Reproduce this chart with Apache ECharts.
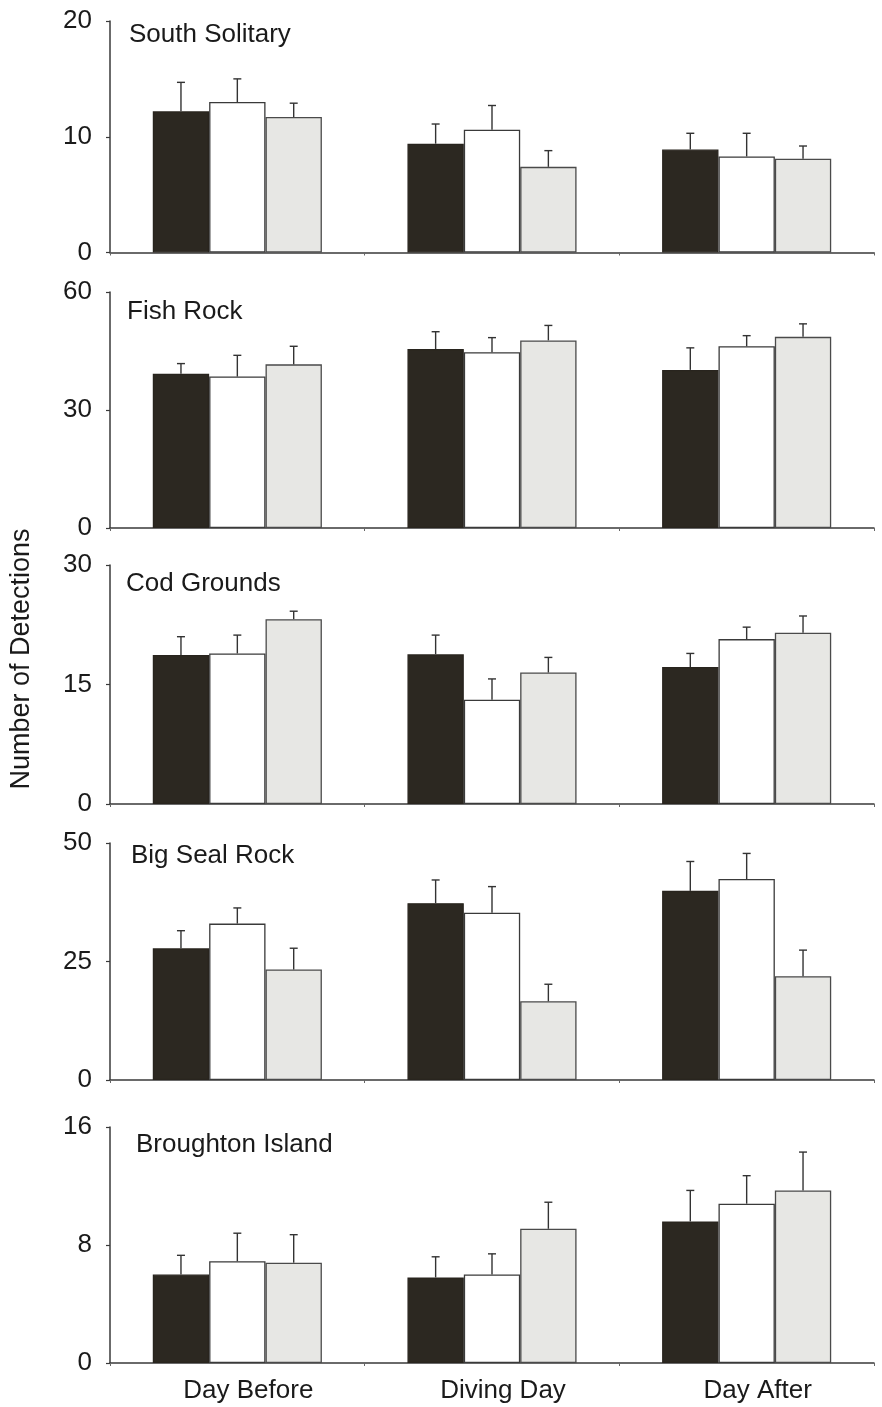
<!DOCTYPE html>
<html>
<head>
<meta charset="utf-8">
<script src="https://cdn.jsdelivr.net/npm/echarts@6/dist/echarts.min.js"></script>
<style>
html,body{margin:0;padding:0;background:#fff;}
#chart{width:882px;height:1407px;}
</style>
</head>
<body>
<div id="chart"></div>
<script>
// ---- data ----
const categories = ['Day Before', 'Diving Day', 'Day After'];
const panelNames = ['South Solitary', 'Fish Rock', 'Cod Grounds', 'Big Seal Rock', 'Broughton Island'];
const yMax = [20, 60, 30, 50, 16];
const yTicks = [[0, 10, 20], [0, 30, 60], [0, 15, 30], [0, 25, 50], [0, 8, 16]];
const yAxisTitle = 'Number of Detections';

// means: [black series, white series, grey series], each over the 3 days
const southSolitaryMean = [[12.2, 9.4, 8.9], [13.0, 10.6, 8.3], [11.7, 7.4, 8.1]];
const southSolitarySE   = [[2.5, 1.7, 1.4], [2.0, 2.1, 2.0], [1.2, 1.4, 1.1]];
const fishRockMean      = [[39.2, 45.5, 40.2], [38.5, 44.7, 46.2], [41.6, 47.7, 48.6]];
const fishRockSE        = [[2.6, 4.4, 5.6], [5.4, 3.7, 2.7], [4.6, 3.8, 3.3]];
const codGroundsMean    = [[18.7, 18.8, 17.2], [18.9, 13.1, 20.7], [23.2, 16.5, 21.5]];
const codGroundsSE      = [[2.3, 2.4, 1.7], [2.3, 2.6, 1.5], [1.0, 1.9, 2.1]];
const bigSealRockMean   = [[27.8, 37.3, 39.9], [33.0, 35.3, 42.4], [23.3, 16.6, 21.9]];
const bigSealRockSE     = [[3.7, 4.9, 6.2], [3.3, 5.5, 5.4], [4.5, 3.6, 5.5]];
const broughtonMean     = [[6.0, 5.8, 9.6], [6.9, 6.0, 10.8], [6.8, 9.1, 11.7]];
const broughtonSE       = [[1.3, 1.4, 2.1], [1.9, 1.4, 1.9], [1.9, 1.8, 2.6]];

const panelMeans = [southSolitaryMean, fishRockMean, codGroundsMean, bigSealRockMean, broughtonMean];
const panelSE = [southSolitarySE, fishRockSE, codGroundsSE, bigSealRockSE, broughtonSE];

// ---- layout & style ----
const gridTops = [21, 292, 565, 843, 1127];
const gridBottoms = [252.5, 528, 804, 1080, 1363];
const titleY = [35, 312, 584, 856, 1145];
const titleX = [129, 127, 126, 131, 136];
const barFill = ['#2c2821', '#ffffff', '#e7e7e4'];
const barBorder = ['#28241e', '#3a3a3a', '#4a4a4a'];
const FONT = '"Liberation Sans", Arial, sans-serif';
const CAT_GAP = 0.336;

const chart = echarts.init(document.getElementById('chart'), null, {renderer: 'canvas'});

const grids = [], xAxes = [], yAxes = [], series = [], graphics = [];

function renderErr(params, api) {
  const cat = api.value(0), mean = api.value(1), se = api.value(2), s = api.value(3);
  const band = api.size([1, 0])[0];
  const bw = band * (1 - CAT_GAP) / 3;
  const base = api.coord([cat, mean]);
  const x = base[0] + (s - 1) * bw;
  const top = api.coord([cat, mean + se])[1];
  const st = {stroke: '#333', lineWidth: 1.4};
  return {
    type: 'group',
    children: [
      {type: 'line', shape: {x1: x, y1: base[1], x2: x, y2: top}, style: st},
      {type: 'line', shape: {x1: x - 4, y1: top, x2: x + 4, y2: top}, style: st}
    ]
  };
}

for (let p = 0; p < 5; p++) {
  grids.push({left: 110, right: 8, top: gridTops[p], height: gridBottoms[p] - gridTops[p], containLabel: false, outerBoundsMode: 'none'});
  xAxes.push({
    type: 'category', gridIndex: p, data: categories, boundaryGap: true,
    axisLine: {show: true, lineStyle: {color: '#3a3a3a', width: 1.5}},
    axisTick: {show: true, length: 3, lineStyle: {color: '#666', width: 1}},
    axisLabel: {show: p === 4, fontSize: 26, fontFamily: FONT, color: '#1a1a1a', margin: 15, padding: [0, 0, 0, 22]},
    splitLine: {show: false}
  });
  yAxes.push({
    type: 'value', gridIndex: p, min: 0, max: yMax[p], interval: yMax[p] / 2,
    axisLine: {show: true, lineStyle: {color: '#3a3a3a', width: 1.5}},
    axisTick: {show: true, length: 4, lineStyle: {color: '#3a3a3a', width: 1.2}},
    axisLabel: {fontSize: 26, fontFamily: FONT, color: '#1a1a1a', margin: 18,
      formatter: v => (yTicks[p].indexOf(v) >= 0 ? String(v) : '')},
    splitLine: {show: false}
  });
  for (let s = 0; s < 3; s++) {
    series.push({
      type: 'bar', xAxisIndex: p, yAxisIndex: p,
      data: panelMeans[p][s],
      barGap: '0%', barCategoryGap: (CAT_GAP * 100) + '%',
      itemStyle: {color: barFill[s], borderColor: barBorder[s], borderWidth: 1.3},
      emphasis: {disabled: true}, silent: true, animation: false
    });
  }
  const errData = [];
  for (let s = 0; s < 3; s++) {
    for (let c = 0; c < 3; c++) {
      errData.push([c, panelMeans[p][s][c], panelSE[p][s][c], s]);
    }
  }
  series.push({
    type: 'custom', xAxisIndex: p, yAxisIndex: p, renderItem: renderErr,
    data: errData, encode: {x: 0, y: 1}, z: 5, silent: true, animation: false
  });
  graphics.push({
    type: 'text', x: titleX[p], y: titleY[p],
    style: {text: panelNames[p], fontSize: 26, fontFamily: FONT, fill: '#1a1a1a', textVerticalAlign: 'middle', textAlign: 'left'}
  });
}

graphics.push({
  type: 'text', x: 22, y: 659, rotation: Math.PI / 2,
  style: {text: yAxisTitle, fontSize: 27, fontFamily: FONT, fill: '#1a1a1a', textAlign: 'center', textVerticalAlign: 'middle'}
});

chart.setOption({
  animation: false,
  backgroundColor: '#ffffff',
  grid: grids,
  xAxis: xAxes,
  yAxis: yAxes,
  series: series,
  graphic: graphics
});
</script>
</body>
</html>
